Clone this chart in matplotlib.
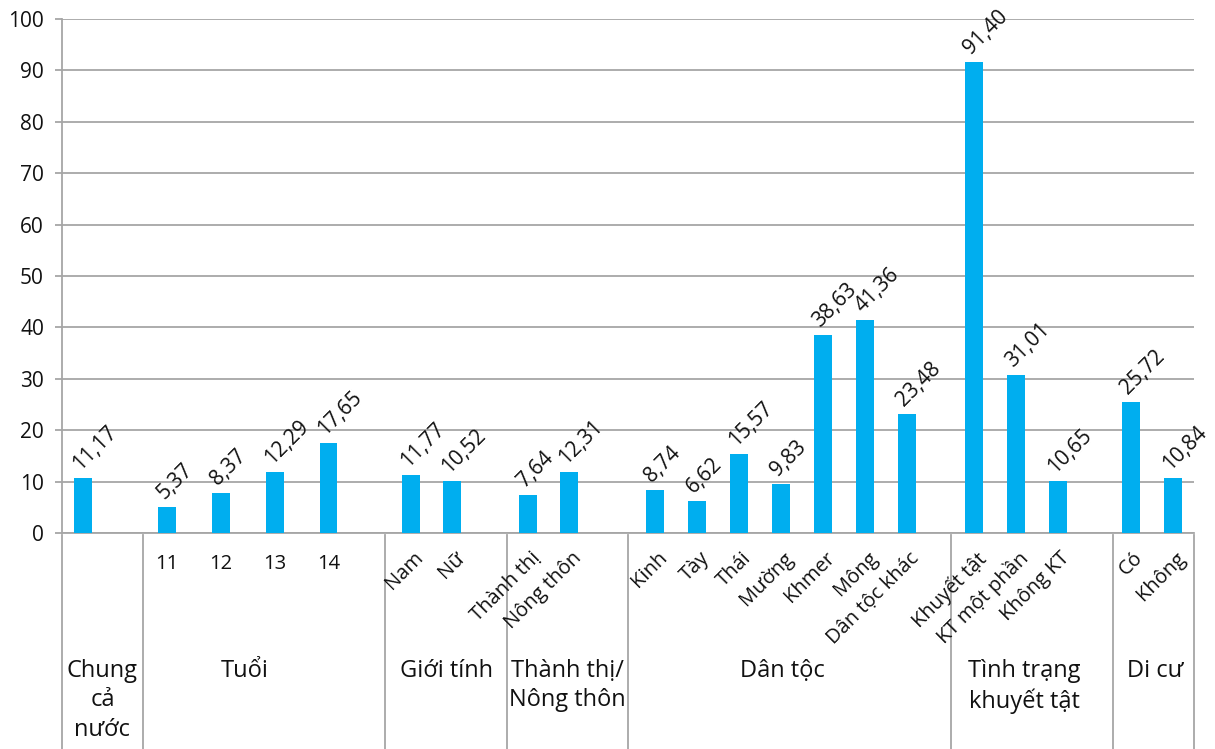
import matplotlib
matplotlib.use("Agg")
import matplotlib.pyplot as plt
from matplotlib import transforms

plt.rcParams['font.family'] = ['Open Sans', 'DejaVu Sans']

# data
groups = ["Chung\ncả\nnước", "Tuổi", "Giới tính", "Thành thị/\nNông thôn",
          "Dân tộc", "Tình trạng\nkhuyết tật", "Di cư"]
cat_labels = [
    [""],
    ["11", "12", "13", "14"],
    ["Nam", "Nữ"],
    ["Thành thị", "Nông thôn"],
    ["Kinh", "Tày", "Thái", "Mường", "Khmer", "Mông", "Dân tộc khác"],
    ["Khuyết tật", "KT một phần", "Không KT"],
    ["Có", "Không"],
]
bar_values = [
    [10.7],
    [5.1, 7.8, 11.9, 17.5],
    [11.3, 10.1],
    [7.4, 11.9],
    [8.4, 6.2, 15.4, 9.5, 38.5, 41.4, 23.2],
    [91.6, 30.7, 10.1],
    [25.5, 10.7],
]
value_text = [
    ["11,17"],
    ["5,37", "8,37", "12,29", "17,65"],
    ["11,77", "10,52"],
    ["7,64", "12,31"],
    ["8,74", "6,62", "15,57", "9,83", "38,63", "41,36", "23,48"],
    ["91,40", "31,01", "10,65"],
    ["25,72", "10,84"],
]

# layout (slots per group, first bar offset, bar step, group label shift)
group_slots = [2, 6, 3, 3, 8, 4, 2]
group_offset = [0.52, 0.60, 0.63, 0.53, 0.67, 0.56, 0.44]
group_step = [1.0, 1.33, 1.02, 1.02, 1.04, 1.04, 1.04]
label_shift = [0, -0.47, 0, 0, -0.17, -0.2, 0.05]

W, H = 1215, 749
BLUE = "#00aeef"
GRID = "#a6a6a6"
TXT = "#111111"

fig = plt.figure(figsize=(W / 100, H / 100), dpi=100)
ax = fig.add_axes([62 / W, 1 - 533 / H, (1194 - 62) / W, (533 - 19) / H])

total = sum(group_slots)
ax.set_xlim(0, total)
ax.set_ylim(0, 100)
ax.set_yticks(range(0, 101, 10))
ax.yaxis.grid(True, color=GRID, linewidth=1.3)
ax.set_axisbelow(True)
ax.set_xticks([])
for s in ["top", "right"]:
    ax.spines[s].set_visible(False)
ax.spines["left"].set_color(GRID)
ax.spines["bottom"].set_color(GRID)
ax.spines["left"].set_linewidth(1.3)
ax.spines["bottom"].set_linewidth(1.3)
ax.tick_params(axis="y", length=5, color=GRID, width=1.3, labelsize=15, labelcolor=TXT, pad=8)

# x data, y in figure fraction for everything under the axis
trans = transforms.blended_transform_factory(ax.transData, fig.transFigure)
def fy(py):
    return 1 - py / H

start = 0
bounds = [0]
for gi, vals in enumerate(bar_values):
    xs = [start + group_offset[gi] + i * group_step[gi] for i in range(len(vals))]
    ax.bar(xs, vals, width=0.44, color=BLUE, zorder=3)
    for x, v, t in zip(xs, vals, value_text[gi]):
        ax.annotate(t, (x, v), xytext=(-3, 7), textcoords="offset pixels",
                    rotation=45, rotation_mode="anchor", ha="left", va="baseline",
                    fontsize=15, color=TXT)
    for x, lab in zip(xs, cat_labels[gi]):
        if not lab:
            continue
        if gi == 1:
            ax.text(x, fy(564), lab, transform=trans, ha="center", va="center",
                    fontsize=14.5, color=TXT)
        else:
            ax.text(x + 0.05, fy(548), lab, transform=trans, rotation=45,
                    rotation_mode="anchor", ha="right", va="top",
                    fontsize=14.5, color=TXT)
    centre = start + group_slots[gi] / 2 + label_shift[gi]
    ax.text(centre, fy(659), groups[gi], transform=trans, ha="center", va="top",
            fontsize=17, color=TXT, linespacing=1.3, multialignment="center")
    start += group_slots[gi]
    bounds.append(start)

for b in bounds:
    ax.plot([b, b], [fy(535), 0], transform=trans, color=GRID, linewidth=1.3,
            clip_on=False)

fig.savefig("out.png", dpi=100)
